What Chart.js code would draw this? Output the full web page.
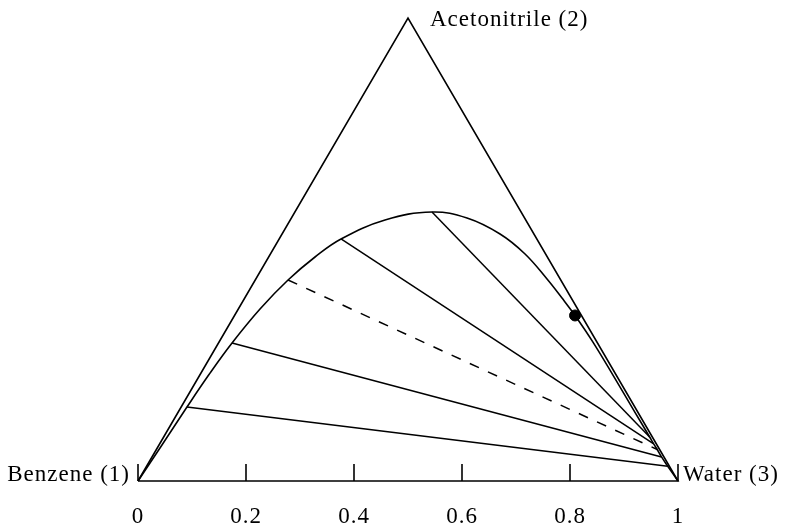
<!DOCTYPE html>
<html>
<head>
<meta charset="utf-8">
<script src="https://cdn.jsdelivr.net/npm/chart.js@4/dist/chart.umd.min.js"></script>
<style>
  html, body { margin: 0; padding: 0; background: #fff; }
</style>
</head>
<body>
<canvas id="ternary" width="790" height="526"></canvas>
<script>
// compositions (mole fractions): x2 = acetonitrile, x3 = water, benzene = 1 - x2 - x3
const vertexNames = ['Benzene (1)', 'Water (3)', 'Acetonitrile (2)'];
const vertexX2 = [0, 0, 1];
const vertexX3 = [0, 1, 0];

const tickValues = [0, 0.2, 0.4, 0.6, 0.8, 1];
const tickLabels = ['0', '0.2', '0.4', '0.6', '0.8', '1'];

// binodal curve, benzene-rich branch -> top -> water-rich branch
const binodalX2 = [0, 0.0745, 0.1598, 0.2300, 0.2981, 0.3715, 0.4341, 0.4838, 0.5227, 0.5637, 0.5810,
                   0.5680, 0.5335, 0.4903, 0.4363, 0.3952, 0.3575, 0.300, 0.220, 0.150, 0.095, 0.080, 0.068, 0.052, 0.032, 0];
const binodalX3 = [0, 0.0053, 0.0108, 0.0165, 0.0251, 0.0402, 0.0608, 0.0859, 0.1146, 0.1756, 0.2539,
                   0.3253, 0.4037, 0.4716, 0.5393, 0.5876, 0.6306, 0.6925, 0.774, 0.8445, 0.900, 0.915, 0.9275, 0.9435, 0.965, 1];

// tie lines: benzene-rich end -> water-rich end
const tieLeftX2  = [0.1598, 0.2981, 0.4341, 0.5227, 0.5810];
const tieLeftX3  = [0.0108, 0.0251, 0.0608, 0.1146, 0.2539];
const tieRightX2 = [0.032, 0.052, 0.068, 0.080, 0.095];
const tieRightX3 = [0.965, 0.9435, 0.9275, 0.915, 0.900];
const tieDashed  = [false, false, true, false, false];

// plait point
const plaitX2 = [0.3575];
const plaitX3 = [0.6306];

const H = Math.sqrt(3) / 2;
const toXY = (x2, x3) => ({ x: x3 + x2 / 2, y: x2 * H });

const triangle = vertexX2.map((v, i) => toXY(v, vertexX3[i]));
triangle.push(triangle[0]);

const datasets = [
    {
        data: triangle,
        showLine: true,
        borderColor: '#000',
        borderWidth: 1.6,
        pointRadius: 0,
        clip: false
    },
    {
        data: binodalX2.map((v, i) => toXY(v, binodalX3[i])),
        showLine: true,
        borderColor: '#000',
        borderWidth: 1.6,
        pointRadius: 0,
        tension: 0.4,
        clip: false
    }
];

tieLeftX2.forEach((v, i) => {
    datasets.push({
        data: [toXY(v, tieLeftX3[i]), toXY(tieRightX2[i], tieRightX3[i])],
        showLine: true,
        borderColor: '#000',
        borderWidth: 1.5,
        borderDash: tieDashed[i] ? [10, 10] : [],
        pointRadius: 0,
        clip: false
    });
});

datasets.push({
    data: plaitX2.map((v, i) => toXY(v, plaitX3[i])),
    showLine: false,
    pointRadius: 5.5,
    pointBackgroundColor: '#000',
    pointBorderColor: '#000',
    clip: false
});

const FONT = '23px "Liberation Serif", serif';

const ternaryDecor = {
    id: 'ternaryDecor',
    afterDatasetsDraw(chart) {
        const { ctx, scales: { x, y } } = chart;
        const y0 = y.getPixelForValue(0);
        ctx.save();
        ctx.strokeStyle = '#000';
        ctx.fillStyle = '#000';
        ctx.lineWidth = 1.6;
        ctx.font = FONT;
        ctx.letterSpacing = '1px';

        // inner tick marks + labels along the base
        ctx.textAlign = 'center';
        ctx.textBaseline = 'alphabetic';
        tickValues.forEach((v, i) => {
            const px = x.getPixelForValue(v);
            ctx.beginPath();
            ctx.moveTo(px, y0);
            ctx.lineTo(px, y0 - 17);
            ctx.stroke();
            ctx.fillText(tickLabels[i], px, y0 + 42);
        });

        // corner labels
        const pts = triangle.slice(0, 3).map(p => ({ x: x.getPixelForValue(p.x), y: y.getPixelForValue(p.y) }));
        ctx.textAlign = 'right';
        ctx.fillText(vertexNames[0], pts[0].x - 8, pts[0].y);
        ctx.textAlign = 'left';
        ctx.fillText(vertexNames[1], pts[1].x + 5, pts[1].y);
        ctx.fillText(vertexNames[2], pts[2].x + 22, pts[2].y + 8);
        ctx.restore();
    }
};

new Chart(document.getElementById('ternary'), {
    type: 'scatter',
    data: { datasets },
    options: {
        responsive: false,
        animation: false,
        devicePixelRatio: 1,
        layout: { padding: { left: 138, right: 112, top: 18, bottom: 45 } },
        scales: {
            x: { type: 'linear', min: 0, max: 1, display: false },
            y: { type: 'linear', min: 0, max: H, display: false }
        },
        plugins: {
            legend: { display: false },
            tooltip: { enabled: false }
        }
    },
    plugins: [ternaryDecor]
});
</script>
</body>
</html>
